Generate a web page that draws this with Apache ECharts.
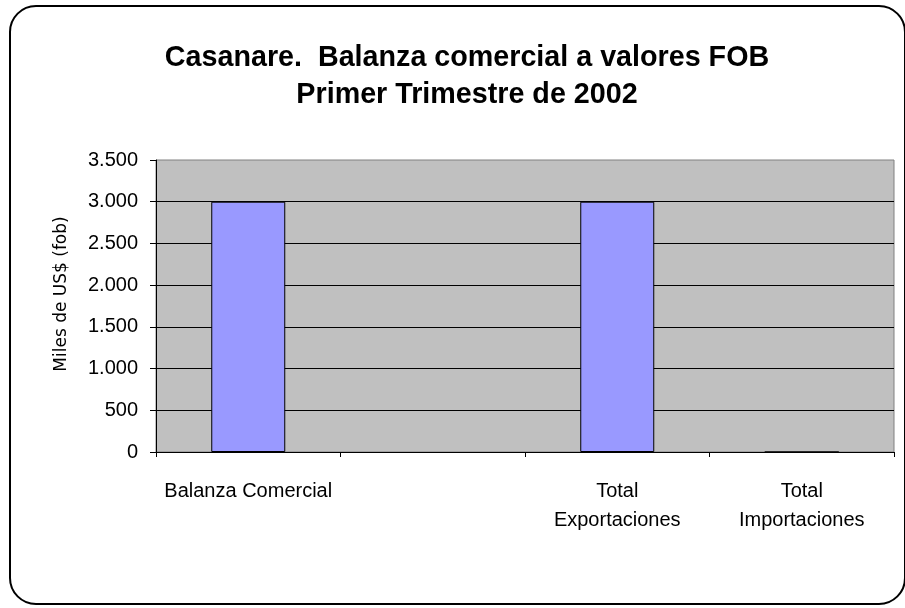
<!DOCTYPE html>
<html>
<head>
<meta charset="utf-8">
<script src="https://cdn.jsdelivr.net/npm/echarts@6/dist/echarts.min.js"></script>
<style>
html,body{margin:0;padding:0;background:#fff;}
#chart{width:905px;height:608px;}
</style>
</head>
<body>
<div id="chart"></div>
<script>
var titleLines = ['Casanare.  Balanza comercial a valores FOB', 'Primer Trimestre de 2002'];
var yAxisName = 'Miles de US$ (fob)';
var categories = ['Balanza Comercial', '', 'Total\nExportaciones', 'Total\nImportaciones'];
var values = [3000, '-', 3000, 0];
var yMin = 0, yMax = 3500, yStep = 500;

function fmt(v) {
  return String(v).replace(/\B(?=(\d{3})+(?!\d))/g, '.');
}

var font = 'Liberation Sans, Arial, sans-serif';
var chart = echarts.init(document.getElementById('chart'), null, {renderer: 'canvas'});
chart.setOption({
  animation: false,
  backgroundColor: '#ffffff',
  title: {
    text: titleLines.join('\n'),
    left: 462,
    top: 35,
    textAlign: 'center',
    textStyle: {
      fontFamily: font,
      fontWeight: 'bold',
      fontSize: 28.7,
      lineHeight: 37,
      color: '#000'
    }
  },
  graphic: [{
    type: 'rect',
    shape: {x: 10, y: 6, width: 895, height: 598, r: 26},
    style: {fill: 'none', stroke: '#000', lineWidth: 2},
    silent: true,
    z: 100
  }, {
    type: 'text',
    x: 62,
    y: 294,
    rotation: Math.PI / 2,
    style: {
      text: yAxisName,
      fontFamily: 'DejaVu Sans, sans-serif',
      fontSize: 17,
      fill: '#000',
      align: 'center',
      verticalAlign: 'middle'
    },
    silent: true
  }],
  grid: {
    left: 156,
    right: 11,
    top: 160,
    bottom: 156,
    show: true,
    backgroundColor: '#c0c0c0',
    borderColor: '#808080',
    borderWidth: 1
  },
  xAxis: {
    type: 'category',
    data: categories,
    boundaryGap: true,
    axisLine: {show: true, lineStyle: {color: '#000', width: 1}},
    axisTick: {show: true, alignWithLabel: false, length: 5, lineStyle: {color: '#000'}},
    axisLabel: {
      interval: 0,
      margin: 25,
      fontFamily: font,
      fontSize: 20,
      lineHeight: 29,
      color: '#000'
    },
    splitLine: {show: false}
  },
  yAxis: {
    type: 'value',
    min: yMin,
    max: yMax,
    interval: yStep,
    axisLine: {show: true, lineStyle: {color: '#000', width: 1}},
    axisTick: {show: true, length: 6, lineStyle: {color: '#000'}},
    axisLabel: {
      margin: 18,
      fontFamily: font,
      fontSize: 20,
      color: '#000',
      formatter: fmt
    },
    splitLine: {show: true, showMaxLine: false, lineStyle: {color: '#000', width: 1}}
  },
  series: [{
    type: 'bar',
    data: values,
    barWidth: 74,
    itemStyle: {color: '#9999ff', borderColor: '#000', borderWidth: 1}
  }]
});
</script>
</body>
</html>
